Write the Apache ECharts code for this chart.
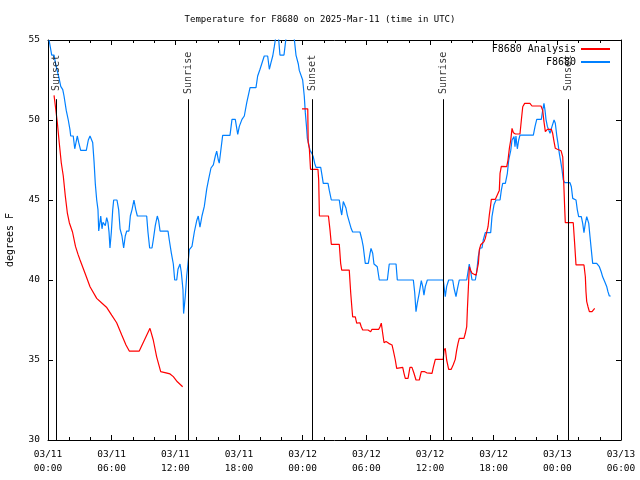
<!DOCTYPE html>
<html>
<head>
<meta charset="utf-8">
<script src="https://cdn.jsdelivr.net/npm/echarts@6/dist/echarts.min.js"></script>
<style>html,body{margin:0;padding:0;background:#fff;}#c{width:640px;height:480px;}</style>
</head>
<body>
<div id="c"></div>
<script>
// x values are hours since 2025-03-11 00:00 UTC
const xTickLabels = ['03/11\n00:00','03/11\n06:00','03/11\n12:00','03/11\n18:00','03/12\n00:00','03/12\n06:00','03/12\n12:00','03/12\n18:00','03/13\n00:00','03/13\n06:00'];
const yTicks = [30, 35, 40, 45, 50, 55];
const sunHours = [0.75, 13.22, 24.91, 37.29, 49.0];
const sunNames = ['Sunset', 'Sunrise', 'Sunset', 'Sunrise', 'Sunset'];

const obsSeries = [
[0.1,55],[0.35,54.06],[0.57,54.06],[0.69,53.6],[0.9,53],[1.08,52.5],[1.2,52.1],[1.39,51.9],[1.51,51.5],[1.72,50.6],
[1.91,50],[2.07,49.4],[2.14,49],[2.38,49],[2.52,48.2],[2.76,49],[2.89,48.6],[3.08,48.1],[3.61,48.1],[3.8,48.75],
[3.96,49],[4.12,49],[4.21,48.6],[4.34,47.4],[4.46,46.0],[4.59,45.0],[4.71,44.4],[4.78,43.06],[4.87,43.5],[4.97,44],
[5.09,43.2],[5.18,43.6],[5.4,43.4],[5.53,43.9],[5.65,43.6],[5.75,43],[5.84,42],[5.97,43],[6.1,44.4],[6.19,45],
[6.5,45],[6.66,44.4],[6.79,43.2],[6.97,42.75],[7.13,42],[7.28,42.75],[7.42,43.06],[7.63,43.06],[7.76,44],[7.92,44.4],
[8.1,45],[8.27,44.4],[8.42,44],[9.3,44],[9.42,43],[9.58,42],[9.8,42],[9.92,42.5],[10.11,43.4],[10.3,44],
[10.43,43.7],[10.56,43.06],[11.31,43.06],[11.43,42.5],[11.62,41.7],[11.81,41],[11.94,40],[12.13,40],[12.25,40.67],[12.44,41],
[12.56,40.5],[12.72,39.4],[12.78,37.9],[12.94,39],[13.07,40.25],[13.19,41.0],[13.32,41.9],[13.57,42.1],[13.79,43],[14.01,43.7],
[14.16,44],[14.32,43.3],[14.51,44],[14.73,44.6],[14.96,45.7],[15.14,46.3],[15.36,47],[15.58,47.2],[15.77,47.75],[15.9,48.06],
[16.05,47.5],[16.14,47.3],[16.28,48.06],[16.46,49.04],[17.15,49.04],[17.34,50.04],[17.65,50.04],[17.88,49.1],[18.03,49.6],[18.28,50.04],
[18.5,50.25],[18.73,51.08],[19.04,52.02],[19.6,52.02],[19.76,52.75],[19.98,53.17],[20.38,54],[20.7,54],[20.86,53.17],[21.02,53.6],
[21.18,54],[21.33,54.6],[21.49,55.3],[21.68,55.5],[21.86,54.06],[22.24,54.06],[22.48,55.4],[22.81,56],[23.14,55.5],[23.37,54.06],
[23.59,53.5],[23.68,53.1],[23.84,53.06],[24.0,52.5],[24.15,51.5],[24.25,50.46],[24.36,49.6],[24.44,48.85],[24.57,48.5],[24.69,48.1],
[24.88,47.9],[25.0,47.7],[25.13,47.3],[25.26,47.04],[25.7,47.04],[25.82,46.56],[25.94,46.04],[26.39,46.04],[26.51,45.6],[26.7,45],
[27.45,45],[27.58,44.4],[27.68,44.06],[27.83,44.9],[27.96,45],[28.08,44.5],[28.21,44.06],[28.39,43.96],[28.58,43.2],[28.71,43],
[29.4,43],[29.59,42.5],[29.71,42.08],[29.9,41.04],[30.19,41.04],[30.35,41.67],[30.44,41.98],[30.6,41.67],[30.72,41],[31.03,40.83],
[31.22,40],[31.98,40],[32.16,41],[32.8,41],[32.92,40],[34.43,40],[34.56,39.2],[34.68,38.02],[34.8,38.54],[34.99,39.2],
[35.18,39.96],[35.31,39.6],[35.43,39.06],[35.56,39.6],[35.75,40],[37.25,40],[37.38,39.3],[37.44,38.96],[37.57,39.6],[37.76,40],
[38.14,40],[38.26,39.5],[38.45,38.96],[38.57,39.4],[38.76,40],[39.46,40],[39.58,40.5],[39.7,41],[39.84,40.5],[39.96,40],
[40.27,40],[40.4,40.5],[40.55,41.46],[40.71,42],[40.9,42],[41.02,42.5],[41.21,42.96],[41.72,42.96],[41.84,43.96],[42.03,44.7],
[42.22,45],[42.6,45],[42.72,45.6],[42.85,46.04],[43.1,46.04],[43.29,46.67],[43.42,47.5],[43.61,48.1],[43.73,48.75],[43.92,48.96],
[44.01,48.33],[44.1,49],[44.23,48.2],[44.36,48.75],[44.48,49.06],[45.74,49.06],[45.9,49.6],[46.06,50.04],[46.49,50.04],[46.62,50.6],
[46.74,51.04],[46.84,50.6],[46.93,50.04],[47.06,49.6],[47.31,49.17],[47.5,49.6],[47.69,50],[47.81,49.8],[47.94,49.06],[48.06,48.54],
[48.19,47.9],[48.32,47.4],[48.44,46.9],[48.56,46.25],[48.7,46.08],[49.19,46.08],[49.32,45.83],[49.45,45.1],[49.76,45],[49.88,44.4],
[50.01,43.96],[50.26,43.96],[50.39,43.54],[50.51,42.96],[50.64,43.54],[50.77,43.96],[50.96,43.54],[51.08,42.7],[51.2,41.9],[51.33,41.04],
[51.71,41.04],[51.96,40.83],[52.14,40.5],[52.27,40.2],[52.46,39.9],[52.65,39.6],[52.77,39.27],[52.9,39],[53.03,39]
];

const analysisSeries = [
[0.57,51.54],[0.69,50.9],[0.88,49.83],[1.06,48.58],[1.25,47.33],[1.44,46.5],[1.63,45.25],[1.82,44.2],[2.01,43.58],[2.31,43.0],
[2.59,42.1],[2.83,41.6],[3.02,41.25],[3.49,40.42],[3.96,39.58],[4.59,38.85],[5.04,38.58],[5.51,38.3],[6.0,37.8],[6.47,37.33],
[6.95,36.56],[7.35,35.94],[7.66,35.56],[8.6,35.56],[9.61,36.98],[9.92,36.25],[10.24,35.2],[10.62,34.27],[11.12,34.2],[11.5,34.13],
[11.81,33.96],[12.19,33.64],[12.69,33.33],
[18,null],
[23.94,50.7],[24.48,50.7],[24.52,48.6],[24.63,48.2],[24.74,46.92],[25.44,46.92],[25.51,46.25],[25.58,44.0],[26.43,44.0],[26.58,43.1],
[26.7,42.23],[27.45,42.23],[27.58,41.04],[27.68,40.62],[28.39,40.62],[28.53,39.17],[28.65,38.17],[28.71,37.7],[28.96,37.7],[29.09,37.3],
[29.4,37.33],[29.52,37.08],[29.66,36.875],[30.16,36.875],[30.41,36.77],[30.53,36.92],[31.17,36.92],[31.29,37.08],[31.41,37.3],[31.54,36.67],
[31.67,36.08],[31.86,36.15],[32.11,36.04],[32.42,35.94],[32.54,35.6],[32.73,35.0],[32.86,34.48],[32.98,34.54],[33.43,34.54],[33.55,34.17],
[33.67,33.85],[33.93,33.85],[34.11,34.54],[34.3,34.54],[34.49,34.17],[34.68,33.75],[34.99,33.75],[35.18,34.27],[35.5,34.27],[35.69,34.2],
[36.19,34.17],[36.31,34.54],[36.5,35.04],[37.25,35.04],[37.32,35.6],[37.44,35.73],[37.57,35.0],[37.76,34.42],[38.0,34.42],[38.19,34.7],
[38.38,35.04],[38.51,35.6],[38.64,36.04],[38.76,36.35],[39.2,36.35],[39.33,36.67],[39.46,37.08],[39.52,38.1],[39.65,40],[39.71,40.83],
[39.84,40.6],[39.96,40.42],[40.09,40.375],[40.34,40.3],[40.46,40.3],[40.56,41.04],[40.65,41.9],[40.78,42.2],[41.09,42.4],[41.21,42.6],
[41.34,42.98],[41.47,43.33],[41.59,44.06],[41.72,44.7],[41.78,45.04],[42.16,45.04],[42.53,45.6],[42.6,46.67],[42.72,47.1],[43.23,47.08],
[43.35,47.5],[43.48,48.23],[43.61,48.75],[43.73,49.48],[43.86,49.2],[44.05,49.125],[44.48,49.125],[44.61,50],[44.74,50.83],[44.92,51.04],
[45.42,51.04],[45.61,50.875],[46.46,50.875],[46.62,50.6],[46.74,49.9],[46.87,49.27],[47.06,49.42],[47.43,49.42],[47.56,49.17],[47.69,48.65],
[47.81,48.23],[48.0,48.17],[48.35,48.08],[48.51,47.7],[48.56,46.875],[48.63,45.625],[48.7,44.375],[48.75,43.58],[49.5,43.58],[49.63,42.3],
[49.76,40.94],[50.51,40.94],[50.64,40.2],[50.7,39.27],[50.77,38.65],[50.89,38.33],[51.02,38.02],[51.27,38.02],[51.39,38.125],[51.52,38.23]
];

const MONO = '"DejaVu Sans Mono", "Liberation Mono", monospace';
const chart = echarts.init(document.getElementById('c'), null, {renderer: 'canvas'});

const tickStyle = {show: true, inside: true, length: 5, lineStyle: {color: '#000', width: 1}};
const minorStyle = {show: true, splitNumber: 3, length: 3, lineStyle: {color: '#000', width: 1}};
const lineAx = {show: true, onZero: false, lineStyle: {color: '#000', width: 1}};

const option = {
  animation: false,
  backgroundColor: '#fff',
  title: {
    text: 'Temperature for F8680 on 2025-Mar-11 (time in UTC)',
    left: 'center', top: 10,
    textStyle: {fontFamily: MONO, fontSize: 9, fontWeight: 'normal', color: '#000'}
  },
  legend: {
    data: ['F8680 Analysis', 'F8680'],
    orient: 'vertical', align: 'right',
    right: 25, top: 38,
    itemWidth: 29, itemHeight: 2, itemGap: 1,
    icon: 'rect',
    textStyle: {fontFamily: MONO, fontSize: 10, color: '#000', lineHeight: 12}
  },
  grid: {left: 48, right: 19, top: 40, bottom: 40, containLabel: false, outerBoundsMode: 'none'},
  xAxis: [
    {
      type: 'value', min: 0, max: 54, interval: 6,
      axisLine: lineAx, axisTick: tickStyle, minorTick: minorStyle,
      splitLine: {show: false},
      axisLabel: {
        fontFamily: MONO, fontSize: 9.5, color: '#000', margin: 8, lineHeight: 14,
        formatter: v => xTickLabels[Math.round(v / 6)]
      }
    },
    {
      type: 'value', min: 0, max: 54, interval: 6, position: 'top',
      axisLine: lineAx, axisTick: tickStyle, minorTick: minorStyle,
      splitLine: {show: false}, axisLabel: {show: false}
    }
  ],
  yAxis: [
    {
      type: 'value', min: yTicks[0], max: yTicks[yTicks.length - 1], interval: 5,
      name: 'degrees F', nameLocation: 'middle', nameGap: 33,
      nameTextStyle: {fontFamily: MONO, fontSize: 10, color: '#000'},
      axisLine: lineAx, axisTick: tickStyle, splitLine: {show: false},
      axisLabel: {fontFamily: MONO, fontSize: 9.5, color: '#000', margin: 8}
    },
    {
      type: 'value', min: yTicks[0], max: yTicks[yTicks.length - 1], interval: 5, position: 'right',
      axisLine: lineAx, axisTick: tickStyle, splitLine: {show: false}, axisLabel: {show: false}
    }
  ],
  series: [
    {
      name: 'F8680 Analysis', type: 'line', data: analysisSeries,
      showSymbol: false, connectNulls: false, clip: true,
      lineStyle: {color: '#ff0000', width: 1.2}, itemStyle: {color: '#ff0000'}, z: 3
    },
    {
      name: 'F8680', type: 'line', data: obsSeries,
      showSymbol: false, clip: true,
      lineStyle: {color: '#0080ff', width: 1.2}, itemStyle: {color: '#0080ff'}, z: 2,
      markLine: {
        silent: true, symbol: 'none', animation: false,
        label: {show: false},
        lineStyle: {color: '#000', width: 1, type: 'solid'},
        emphasis: {disabled: true},
        data: sunHours.map(h => [{coord: [h, 30]}, {coord: [h, 51.3]}])
      }
    },
    {
      name: 'sun', type: 'scatter', symbolSize: 0, silent: true, z: 5,
      data: sunHours.map((h, i) => [h, 52.85, sunNames[i]]),
      label: {
        show: true, position: 'inside', rotate: 90, offset: [1.5, 0],
        formatter: p => p.data[2],
        fontFamily: MONO, fontSize: 10, color: '#000'
      }
    }
  ]
};
chart.setOption(option);
</script>
</body>
</html>
